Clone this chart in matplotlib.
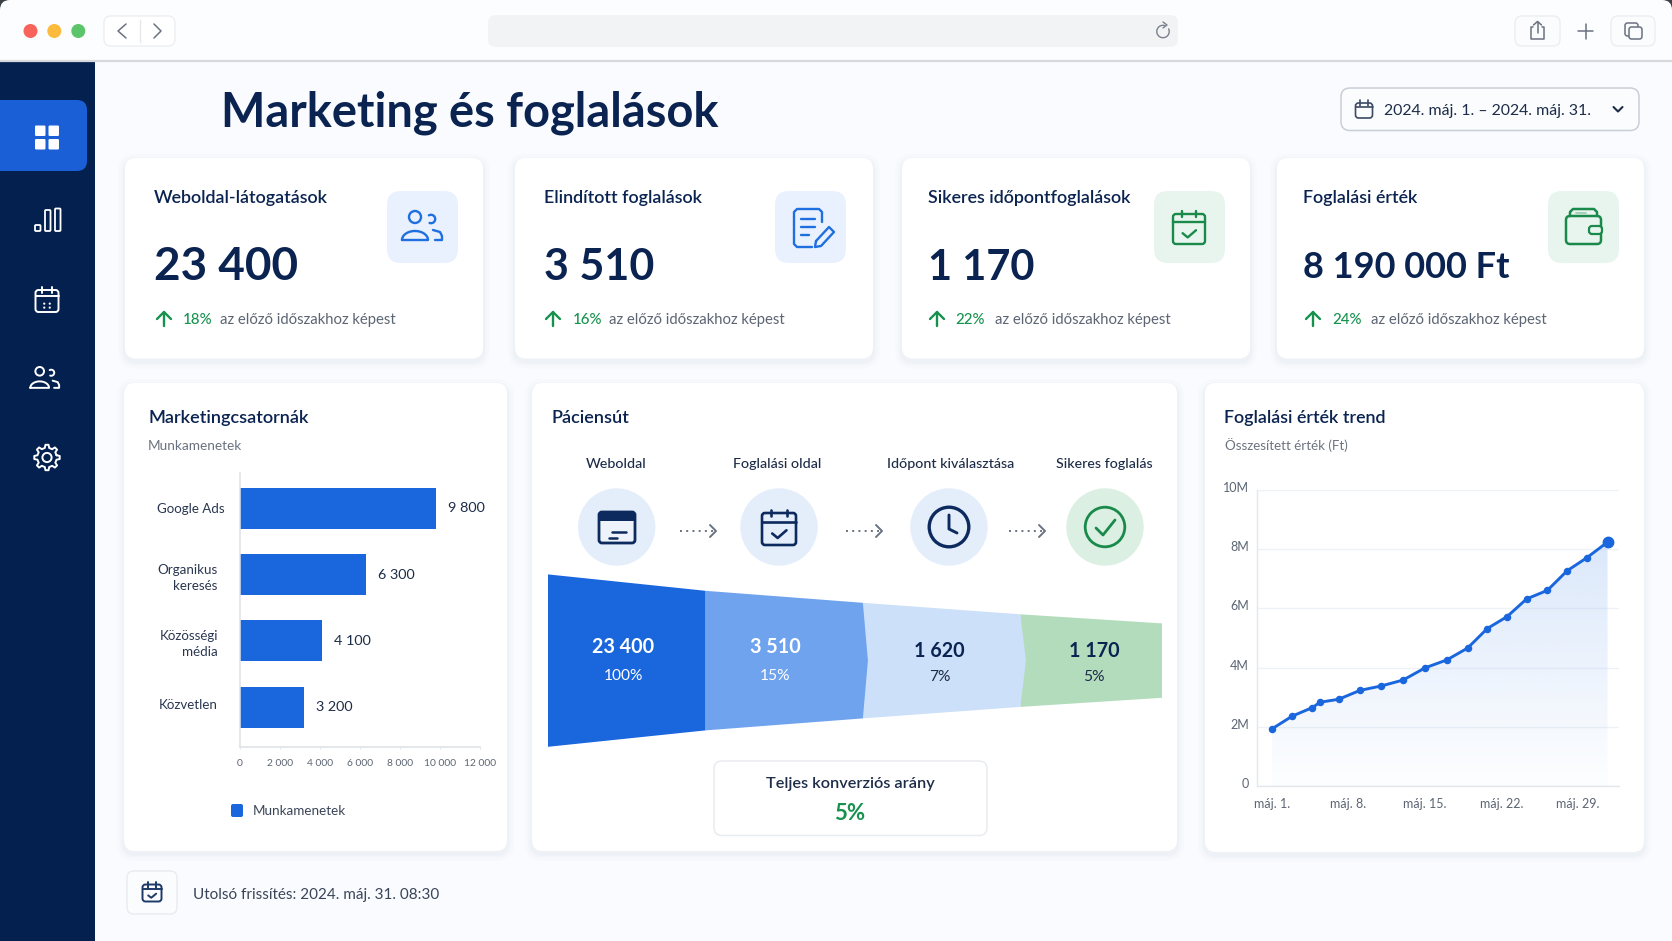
import numpy as np
import matplotlib
matplotlib.use("Agg")
import matplotlib.pyplot as plt
from matplotlib.patches import FancyBboxPatch, Circle, Polygon, Rectangle
from matplotlib.transforms import ScaledTranslation

plt.rcParams['font.family'] = ['Lato', 'DejaVu Sans']

# ---------- data ----------
page_title = "Marketing és foglalások"
date_range = "2024. máj. 1. – 2024. máj. 31."
footer_text = "Utolsó frissítés: 2024. máj. 31. 08:30"

kpi_titles = ["Weboldal-látogatások", "Elindított foglalások", "Sikeres időpontfoglalások", "Foglalási érték"]
kpi_values = ["23 400", "3 510", "1 170", "8 190 000 Ft"]
kpi_deltas = ["18%", "16%", "22%", "24%"]
kpi_note = "az előző időszakhoz képest"

channel_names = ["Google Ads", "Organikus\nkeresés", "Közösségi\nmédia", "Közvetlen"]
channel_sessions = [9800, 6300, 4100, 3200]
channel_labels = ["9 800", "6 300", "4 100", "3 200"]
channel_ticks = [0, 2000, 4000, 6000, 8000, 10000, 12000]
channel_ticklabels = ["0", "2 000", "4 000", "6 000", "8 000", "10 000", "12 000"]

journey_steps = ["Weboldal", "Foglalási oldal", "Időpont kiválasztása", "Sikeres foglalás"]
funnel_counts = ["23 400", "3 510", "1 620", "1 170"]
funnel_shares = ["100%", "15%", "7%", "5%"]
funnel_profile = [86.2, 69.8, 57.8, 46.3, 37.2]   # half-height at each stage edge
funnel_edges = [0, 1, 2, 3, 3.9]

trend_days = [1, 2.85, 4.7, 5.4, 7.1, 9.05, 11, 13, 15, 17, 18.9, 20.7, 22.5, 24.3, 26.2, 28, 29.8, 31.7]
trend_values = [1.93, 2.36, 2.65, 2.83, 2.93, 3.23, 3.38, 3.58, 3.99, 4.26, 4.66, 5.32, 5.72, 6.32, 6.61, 7.27, 7.71, 8.24]
trend_xticks = [1, 8, 15, 22, 29]
trend_xlabels = ["máj. 1.", "máj. 8.", "máj. 15.", "máj. 22.", "máj. 29."]
trend_yticks = [0, 2, 4, 6, 8, 10]
trend_ylabels = ["0", "2M", "4M", "6M", "8M", "10M"]

# ---------- styles ----------
W, H = 1672, 941
NAVY = "#0a2350"
SIDE = "#04204f"
BLUE = "#1a66dd"
GREEN = "#16924e"
GREY = "#5c6573"
BG = "#f9fbfe"

fig = plt.figure(figsize=(W / 100, H / 100), dpi=100, facecolor=BG)
base = fig.add_axes([0, 0, 1, 1], zorder=0)
base.set_xlim(0, W)
base.set_ylim(H, 0)
base.axis("off")


def axpx(l, t, r, b, z=2):
    a = fig.add_axes([l / W, 1 - b / H, (r - l) / W, (b - t) / H], zorder=z)
    a.patch.set_alpha(0)
    return a


def rrect(x0, y0, x1, y1, r, fc="white", ec="none", lw=0, z=1, alpha=None):
    p = FancyBboxPatch((x0 + r, y0 + r), x1 - x0 - 2 * r, y1 - y0 - 2 * r,
                       boxstyle=f"round,pad={r},rounding_size={r}",
                       fc=fc, ec=ec, lw=lw, zorder=z, alpha=alpha)
    base.add_patch(p)
    return p


def line(xs, ys, c, lw=1.5, z=5, **kw):
    base.plot(xs, ys, color=c, lw=lw, zorder=z, solid_capstyle="round", solid_joinstyle="round", **kw)


def arc(cx, cy, r, a0, a1, c, lw=1.5, z=5):
    t = np.radians(np.linspace(a0, a1, 40))
    line(cx + r * np.cos(t), cy - r * np.sin(t), c, lw, z)


def circ(cx, cy, r, fc="none", ec="none", lw=0, z=4):
    base.add_patch(Circle((cx, cy), r, fc=fc, ec=ec, lw=lw, zorder=z))


def text(x, y, s, size, c=NAVY, weight="normal", ha="left", target=None):
    # y is the visual centre of the capitals, in pixels; the baseline follows from the size
    target = target or base
    return target.text(x, y + 0.36 * size * 100 / 72, s, fontsize=size, color=c, fontweight=weight,
                       ha=ha, va="baseline", zorder=6, transform=base.transData, clip_on=False)


def card(x0, y0, x1, y1, r=11):
    for g, a in ((7, .012), (4, .016), (2, .02)):
        rrect(x0 - g, y0 - g + 3, x1 + g, y1 + g + 3, r + g, fc="#2a3f66", alpha=a, z=1)
    rrect(x0, y0, x1, y1, r, fc="white", z=2)


def calendar(cx, cy, w, h, c, lw=1.4, check=False, dots=False):
    x0, x1, y0, y1 = cx - w / 2, cx + w / 2, cy - h / 2, cy + h / 2
    rrect(x0, y0, x1, y1, 3, fc="none", ec=c, lw=lw, z=5)
    line([x0, x1], [y0 + h * .27] * 2, c, lw)
    for f in (.27, .73):
        line([x0 + w * f] * 2, [y0 - 3, y0 + 3], c, lw)
    if check:
        line([cx - w * .2, cx - w * .04, cx + w * .22], [cy + h * .14, cy + h * .28, cy + h * .04], c, lw)
    if dots:
        for dx in (-.12, .12):
            for dy in (.12, .3):
                circ(cx + w * dx, cy + h * dy, 1.1, fc=c, z=5)


def people(cx, cy, c, lw=1.6, s=1.0):
    circ(cx - 6 * s, cy - 10 * s, 6 * s, ec=c, lw=lw, z=5)
    t = np.radians(np.linspace(180, 0, 30))
    xs = cx - 6 * s + 13 * s * np.cos(t)
    ys = cy + 13 * s - 9 * s * np.sin(t)
    line(list(xs) + [xs[0]], list(ys) + [ys[0]], c, lw)
    arc(cx + 10 * s, cy - 8 * s, 4.2 * s, 120, -110, c, lw)
    line([cx + 12 * s, cx + 19 * s, cx + 21 * s, cx + 21 * s, cx + 14 * s],
         [cy + 3 * s, cy + 5 * s, cy + 9 * s, cy + 13 * s, cy + 13 * s], c, lw)


# ---------- window chrome ----------
for cx in (0, W - 12):
    base.add_patch(Rectangle((cx, 0), 12, 12, fc="#3a3f46", ec="none", zorder=0.5))
rrect(0, 0, W, 80, 10, fc="#fcfdfe", z=0.6)
base.add_patch(Rectangle((0, 61), W, H - 61, fc=BG, ec="none", zorder=0.7))
line([0, W], [61, 61], "#d5d8dd", 1.6, z=3)
for x, c in zip((30.5, 54.3, 78.3), ("#f8645c", "#fbbb3c", "#5cc56c")):
    circ(x, 31, 7, fc=c)
rrect(104, 16, 175, 46, 7, fc="white", ec="#eceef1", lw=1, z=3)
line([139.5, 139.5], [20, 42], "#e6e8eb", 1)
line([126, 118, 126], [24, 31, 38], "#6b7280", 1.1)
line([154, 161, 154], [24, 31, 38], "#6b7280", 1.1)
rrect(488, 15, 1178, 47, 8, fc="#f1f3f5", z=3)
arc(1163, 31.5, 6.2, 75, 385, "#7a818c", 1)
line([1163, 1167, 1163], [22, 25, 28], "#7a818c", 1)
rrect(1515, 16, 1560, 46, 7, fc="#fbfcfd", ec="#eceef1", lw=1, z=3)
rrect(1611, 16, 1655, 46, 7, fc="#fbfcfd", ec="#eceef1", lw=1, z=3)
line([1533, 1531, 1531, 1544, 1544, 1542], [27, 27, 39, 39, 27, 27], "#6b7280", 1.1)
line([1537.5, 1537.5], [22, 33], "#6b7280", 1.1)
line([1533.5, 1537.5, 1541.5], [25, 21.5, 25], "#6b7280", 1.1)
line([1578, 1593], [31, 31], "#6b7280", 1.1)
line([1585.5, 1585.5], [23.5, 38.5], "#6b7280", 1.1)
rrect(1625, 23, 1638, 36, 2.5, fc="none", ec="#6b7280", lw=1.1, z=5)
rrect(1629, 27, 1642, 39, 2.5, fc="#fbfcfd", ec="#6b7280", lw=1.1, z=5)

# ---------- sidebar ----------
base.add_patch(Rectangle((0, 61), 94.5, H - 61, fc=SIDE, ec="none", zorder=2))
rrect(-20, 100, 87, 171, 10, fc="#1a5fd6", z=3)
for dx in (-12, 1.5):
    for dy in (-12, 1.5):
        rrect(47 + dx, 137.5 + dy, 47 + dx + 10.5, 137.5 + dy + 10.5, 1.2, fc="white", z=5)
for x0, top in ((35, 215), (45, 210), (55, 208.5)):
    rrect(x0, top + (10 if x0 == 35 else 0), x0 + 5.5, 231, 1, fc="none", ec="white", lw=1.3, z=5)
calendar(47, 301, 23, 22, "white", 1.4, dots=True)
people(44, 378.5, "white", 1.4, .72)

ang = np.radians(np.arange(0, 360, 45))
gx, gy = [], []
for a in ang:
    for d, r in ((-13, 9.8), (-7, 12.8), (7, 12.8), (13, 9.8)):
        gx.append(47 + r * np.cos(a + np.radians(d)))
        gy.append(457.5 + r * np.sin(a + np.radians(d)))
gx.append(gx[0])
gy.append(gy[0])
line(gx, gy, "white", 1.4)
circ(47, 457.5, 4.6, ec="white", lw=1.4, z=5)

# ---------- header ----------
text(221, 109.5, page_title, 33.8, NAVY, "bold")
rrect(1341, 88, 1639, 130.5, 9, fc="#fbfcfe", ec="#c9cfd7", lw=1.1, z=3)
calendar(1364, 110.5, 17, 15, "#3c4a63", 1.2)
text(1384, 109.5, date_range, 11.4, "#1d2c48")
line([1613.5, 1618, 1622.5], [107, 111.5, 107], "#1d2c48", 1.5)

# ---------- KPI cards ----------
kpi_cards = [(125, 483), (515, 873), (902, 1250), (1277, 1644)]
kpi_text_x = [154, 544, 927.5, 1303]
kpi_value_sizes = [33, 31, 30, 26]
kpi_value_y = [263, 264, 264.5, 265.5]
kpi_icon_x = [(387, 458), (775, 846), (1154, 1225), (1548, 1619)]
kpi_arrow_x = [164, 553, 937, 1313]
kpi_pct_x = [182.5, 572.5, 955, 1332]
kpi_note_x = [220, 609, 995, 1371]
for i in range(4):
    x0, x1 = kpi_cards[i]
    card(x0, 158, x1, 358.5)
    text(kpi_text_x[i], 196.5, kpi_titles[i], 12.85, NAVY, "semibold")
    text(kpi_text_x[i], kpi_value_y[i], kpi_values[i], kpi_value_sizes[i], NAVY, "bold")
    ax_ = kpi_arrow_x[i]
    line([ax_, ax_], [312, 326], GREEN, 1.7)
    line([ax_ - 7, ax_, ax_ + 7], [319, 312, 319], GREEN, 1.7)
    text(kpi_pct_x[i], 319, kpi_deltas[i], 10.8, GREEN, "medium")
    text(kpi_note_x[i], 319, kpi_note, 10.75, GREY)
    ix0, ix1 = kpi_icon_x[i]
    rrect(ix0, 191, ix1, 263, 14, fc="#e8f1fd" if i < 2 else "#e8f4ee", z=3)

people(421, 227, "#1f6fe0", 1.7)
dc = "#1f6fe0"
line([822, 822, 819, 797, 794, 794, 797, 812], [222, 212, 209, 209, 212, 244, 247, 247], dc, 1.7)
line([801, 815], [219, 219], dc, 1.7)
line([801, 815], [227, 227], dc, 1.7)
line([801, 809], [235, 235], dc, 1.7)
line([816, 829, 834, 821, 815, 816], [241, 227, 232, 246, 247, 241], dc, 1.7)
calendar(1189, 229, 32, 30, "#1a8a4b", 1.7, check=True)
gr = "#1a8a4b"
rrect(1566, 216, 1601, 244, 4, fc="none", ec=gr, lw=1.8, z=5)
line([1570, 1570, 1573, 1594, 1597, 1597], [216, 212, 209, 209, 212, 216], gr, 1.8)
rrect(1589, 226, 1602, 234, 3, fc="#e8f4ee", ec=gr, lw=1.6, z=6)
line([1576, 1586], [213, 213], "#9cc9ae", 1.2)

# ---------- lower cards ----------
card(124, 383, 507, 851)
card(532, 383, 1177, 851)
card(1205, 383, 1644, 852)
text(148, 416.5, "Marketingcsatornák", 13.1, NAVY, "semibold")
text(148, 445, "Munkamenetek", 9.8, "#6b7380")
text(551.5, 416.5, "Páciensút", 13.1, NAVY, "semibold")
text(1224.5, 416.5, "Foglalási érték trend", 12.9, NAVY, "semibold")
text(1225, 445.5, "Összesített érték (Ft)", 9.6, "#6b7380")

# ---------- bar chart ----------
ax = axpx(240, 473, 480, 747)
ypos = np.arange(len(channel_sessions))
ax.barh(ypos, channel_sessions, height=0.62, color=BLUE)
ax.set_xlim(0, 12000)
ax.set_ylim(3.6, -0.53)
ax.set_xticks(channel_ticks)
ax.set_xticklabels(channel_ticklabels, fontsize=7.4, color=GREY)
ax.set_yticks(ypos)
ax.set_yticklabels(channel_names, fontsize=9.6, color="#2a3650", ha="right", linespacing=1.45)
ax.tick_params(axis="y", length=0, pad=16)
ax.tick_params(axis="x", length=1.5, color="#e3e6ea", pad=7)
for s in ("top", "right"):
    ax.spines[s].set_visible(False)
for s in ("left", "bottom"):
    ax.spines[s].set_color("#dde1e6")
    ax.spines[s].set_linewidth(1.1)
for lab, dx, dy in zip(ax.get_yticklabels(), (7, 0, 0, 0), (0, 0, 0, 3)):
    lab.set_transform(lab.get_transform() + ScaledTranslation(dx / 100, dy / 100, fig.dpi_scale_trans))
for y, v, l in zip(ypos, channel_sessions, channel_labels):
    ax.annotate(l, (v, y), xytext=(8.5, 0), textcoords="offset points", va="center", fontsize=10.4, color="#1d2c48")
rrect(231, 804, 243, 817, 2, fc=BLUE, z=5)
text(253, 810.5, "Munkamenetek", 9.7, "#3a4558")

# ---------- journey ----------
step_x = [616, 777.5, 951, 1104.5]
icon_x = [616.7, 779, 949, 1105]
for x, s in zip(step_x, journey_steps):
    text(x, 463, s, 10.3, "#1d2c48", "medium", ha="center")
for i, x in enumerate(icon_x):
    circ(x, 527, 38.7, fc="#e4eefb" if i < 3 else "#dcefe3")
ic = "#0d2a5e"
rrect(599, 512, 635, 543, 3, fc="#eef3fb", ec=ic, lw=2, z=5)
base.add_patch(Rectangle((599, 512), 36, 9, fc=ic, ec="none", zorder=5))
line([612, 626], [532, 532], ic, 1.8)
line([609, 617], [538, 538], ic, 1.8)
calendar(779, 529, 34, 32, ic, 1.9, check=True)
circ(949, 527, 19.8, ec=ic, lw=2.4, z=5)
line([949, 949, 957], [515, 529, 533], ic, 2.1)
circ(1105, 527, 19.8, ec="#1a8a4b", lw=2, z=5)
line([1096, 1103, 1115], [528, 535, 520], "#1a8a4b", 2)
for x0, x1 in ((680, 716), (846, 882), (1009, 1045)):
    base.plot([x0, x1 - 3], [531, 531], color="#6a7280", lw=1.4, ls=(0, (1, 2.2)), zorder=5)
    line([x1 - 6, x1, x1 - 6], [525, 531, 537], "#6a7280", 1.4)

# ---------- funnel ----------
fx = axpx(548, 660.6 - 90, 1162, 660.6 + 90)
fx.set_xlim(funnel_edges[0], funnel_edges[-1])
fx.set_ylim(-90, 90)
fx.axis("off")
seg_colors = ["#1a66dd", "#6fa3ee", "#cde0f9", "#b3dcbd"]
tips = [0, 0.032, 0.036, 0]
for i in (3, 2, 1, 0):
    e0, e1 = funnel_edges[i], funnel_edges[i + 1]
    h0, h1 = funnel_profile[i], funnel_profile[i + 1]
    pts = [(e0, h0), (e1, h1), (e1 + tips[i], 0), (e1, -h1), (e0, -h0)]
    fx.add_patch(Polygon(pts, closed=True, fc=seg_colors[i], ec="none", zorder=2 + (3 - i)))
text_x = [623.4, 775, 939.5, 1094]
count_y = [646, 646, 650, 650]
share_y = [674.5, 674.5, 675, 675]
for i in range(4):
    c = "white" if i < 2 else NAVY
    text(text_x[i], count_y[i], funnel_counts[i], 14.2, c, "bold", ha="center", target=fx).set_zorder(9)
    text(text_x[i], share_y[i], funnel_shares[i], 11.2, c if i < 2 else "#1d2c48", ha="center", target=fx).set_zorder(9)

rrect(714, 761, 987, 835.5, 8, fc="white", ec="#e8ebef", lw=1.1, z=3)
text(850, 782.5, "Teljes konverziós arány", 11.7, "#1d2c48", "semibold", ha="center")
text(850, 812, "5%", 16, GREEN, "bold", ha="center")

# ---------- trend ----------
lx = axpx(1257, 490, 1619, 786, z=2)
ymax = max(trend_values)
grad = np.zeros((256, 1, 4))
grad[..., :3] = matplotlib.colors.to_rgb("#a9c8f5")
grad[..., 3] = np.linspace(0.42, 0.02, 256)[:, None]
im = lx.imshow(grad, extent=[trend_days[0], trend_days[-1], 0, ymax], aspect="auto", origin="upper", zorder=1)
poly = Polygon(list(zip(trend_days, trend_values)) + [(trend_days[-1], 0), (trend_days[0], 0)],
               closed=True, transform=lx.transData, fc="none", ec="none")
lx.add_patch(poly)
im.set_clip_path(poly)
lx.set_ylim(0, 10)
lx.set_xlim(-0.37, 32.75)
lx.plot(trend_days, trend_values, color=BLUE, lw=2.1, marker="o", ms=4.4, zorder=3)
lx.plot(trend_days[-1:], trend_values[-1:], color=BLUE, marker="o", ms=7.5, zorder=4)
lx.set_xticks(trend_xticks)
lx.set_xticklabels(trend_xlabels, fontsize=9, color=GREY)
lx.set_yticks(trend_yticks)
lx.set_yticklabels(trend_ylabels, fontsize=9, color=GREY)
lx.tick_params(axis="both", length=0)
lx.tick_params(axis="x", pad=9)
lx.tick_params(axis="y", pad=6)
for lab in lx.get_yticklabels():
    lab.set_transform(lab.get_transform() + ScaledTranslation(0, 3 / 100, fig.dpi_scale_trans))
lx.grid(axis="y", color="#eef1f5", lw=1)
lx.set_axisbelow(True)
for s in ("top", "right"):
    lx.spines[s].set_visible(False)
for s in ("left", "bottom"):
    lx.spines[s].set_color("#e3e6eb")
    lx.spines[s].set_linewidth(1)

# ---------- footer ----------
rrect(127, 871, 177, 914, 7, fc="#fbfcfe", ec="#e8ebef", lw=1, z=3)
calendar(152, 893, 19, 17, "#1d3a66", 1.4, check=True)
text(193, 894, footer_text, 11, "#3a4558")

fig.savefig("out.png", dpi=100, facecolor=BG)
